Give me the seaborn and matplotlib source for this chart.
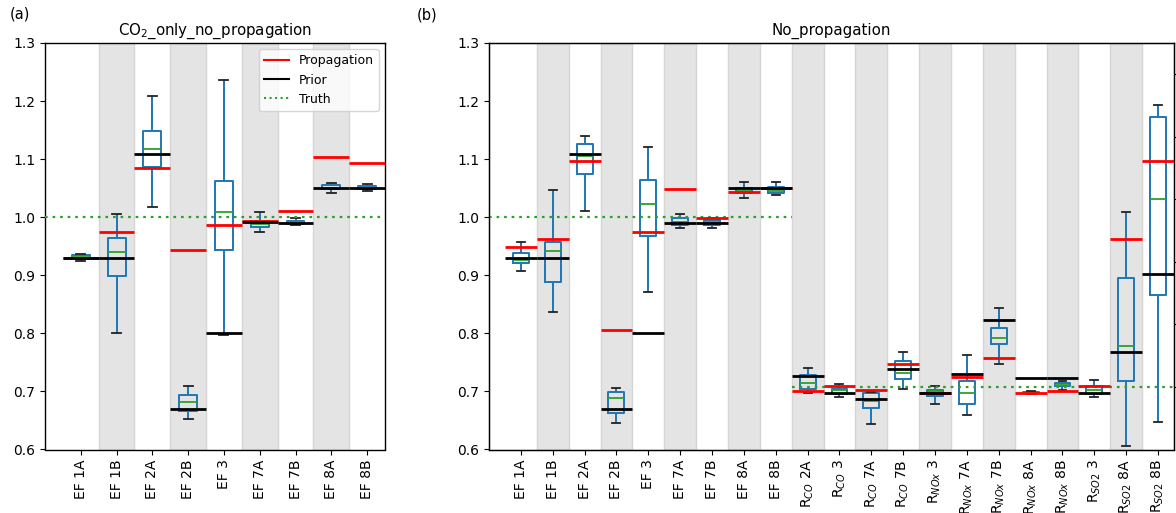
import numpy as np
import pandas as pd
import matplotlib
matplotlib.use("Agg")
import matplotlib.pyplot as plt
from matplotlib.lines import Line2D
import seaborn as sns

# ---------------- panel (a): CO2 only, no propagation ----------------
cats_a = ["EF 1A", "EF 1B", "EF 2A", "EF 2B", "EF 3", "EF 7A", "EF 7B", "EF 8A", "EF 8B"]
lo_a = [0.925, 0.800, 1.017, 0.653, 0.797, 0.975, 0.987, 1.041, 1.046]
q1_a = [0.929, 0.898, 1.087, 0.667, 0.944, 0.983, 0.989, 1.049, 1.048]
med_a = [0.932, 0.940, 1.117, 0.681, 1.009, 0.988, 0.991, 1.050, 1.051]
q3_a = [0.935, 0.964, 1.148, 0.694, 1.063, 0.994, 0.993, 1.056, 1.054]
hi_a = [0.937, 1.006, 1.209, 0.709, 1.236, 1.009, 0.999, 1.059, 1.058]
prior_a = [0.930, 0.930, 1.109, 0.670, 0.800, 0.991, 0.990, 1.050, 1.050]
prop_a = [0.930, 0.975, 1.085, 0.944, 0.986, 0.993, 1.011, 1.103, 1.094]
truth_a = [1.0] * 9

# ---------------- panel (b): no propagation ----------------
cats_b = ["EF 1A", "EF 1B", "EF 2A", "EF 2B", "EF 3", "EF 7A", "EF 7B", "EF 8A", "EF 8B",
          "R$_{CO}$ 2A", "R$_{CO}$ 3", "R$_{CO}$ 7A", "R$_{CO}$ 7B",
          "R$_{NOx}$ 3", "R$_{NOx}$ 7A", "R$_{NOx}$ 7B", "R$_{NOx}$ 8A", "R$_{NOx}$ 8B",
          "R$_{SO2}$ 3", "R$_{SO2}$ 8A", "R$_{SO2}$ 8B"]
lo_b = [0.908, 0.836, 1.010, 0.645, 0.871, 0.982, 0.982, 1.033, 1.039,
        0.697, 0.690, 0.644, 0.705, 0.679, 0.660, 0.747, 0.695, 0.702, 0.691, 0.606, 0.648]
q1_b = [0.921, 0.889, 1.075, 0.663, 0.968, 0.987, 0.987, 1.042, 1.042,
        0.705, 0.695, 0.671, 0.722, 0.692, 0.679, 0.781, 0.697, 0.709, 0.695, 0.718, 0.866]
med_b = [0.926, 0.941, 1.106, 0.688, 1.022, 0.992, 0.991, 1.046, 1.046,
         0.715, 0.702, 0.683, 0.732, 0.700, 0.698, 0.792, 0.698, 0.711, 0.703, 0.778, 1.032]
q3_b = [0.938, 0.958, 1.126, 0.699, 1.064, 0.999, 0.995, 1.051, 1.052,
        0.729, 0.705, 0.698, 0.753, 0.702, 0.718, 0.810, 0.699, 0.714, 0.709, 0.895, 1.172]
hi_b = [0.957, 1.047, 1.139, 0.706, 1.121, 1.005, 0.998, 1.060, 1.061,
        0.741, 0.713, 0.699, 0.768, 0.710, 0.763, 0.844, 0.700, 0.718, 0.719, 1.009, 1.194]
prior_b = [0.930, 0.930, 1.109, 0.670, 0.800, 0.990, 0.990, 1.050, 1.050,
           0.727, 0.697, 0.687, 0.739, 0.697, 0.730, 0.823, 0.723, 0.723, 0.697, 0.768, 0.902]
prop_b = [0.949, 0.963, 1.097, 0.805, 0.975, 1.049, 0.998, 1.044, 1.050,
          0.700, 0.710, 0.703, 0.747, 0.698, 0.725, 0.757, 0.698, 0.700, 0.710, 0.963, 1.097]
truth_b = [1.0] * 9 + [0.707] * 12

yticks = [0.6, 0.7, 0.8, 0.9, 1.0, 1.1, 1.2, 1.3]

BLUE, GREEN, RED = "#1f77b4", "#2ca02c", "#ff0000"
XLIM_LEFT = -1.0


def long_form(cats, lo, q1, med, q3, hi):
    """Five-number summaries as a long table (one row per summary value)."""
    rows = []
    for c, *vals in zip(cats, lo, q1, med, q3, hi):
        rows.extend((c, v) for v in vals)
    return pd.DataFrame(rows, columns=["param", "value"])


def draw_panel(ax, cats, lo, q1, med, q3, hi, prior, prop, truth, title):
    n = len(cats)
    x_right = n - 0.5
    for i in range(1, n, 2):
        ax.axvspan(i - 0.5, i + 0.5, facecolor="#e4e4e4", edgecolor="#d5d5d5",
                   lw=1.0, zorder=0)

    df = long_form(cats, lo, q1, med, q3, hi)
    sns.boxplot(data=df, x="param", y="value", order=cats, ax=ax,
                whis=(0, 100), width=0.5, fill=False, linecolor=BLUE,
                linewidth=1.4, showfliers=False,
                medianprops=dict(color=GREEN, linewidth=1.3),
                capprops=dict(color="#222222", linewidth=1.3),
                whiskerprops=dict(color=BLUE, linewidth=1.4),
                boxprops=dict(color=BLUE, linewidth=1.4))

    pos = np.arange(n)
    ax.hlines(prop, pos - 0.5, pos + 0.5, colors=RED, lw=2.0, zorder=4)
    ax.hlines(prior, pos - 0.5, pos + 0.5, colors="k", lw=2.0, zorder=5)

    # truth drawn as one dotted segment per run of equal values
    start = 0
    for i in range(1, n + 1):
        if i == n or truth[i] != truth[start]:
            x0 = XLIM_LEFT if start == 0 else start - 0.5
            x1 = x_right if i == n else i - 0.5
            ax.hlines(truth[start], x0, x1, colors=GREEN, linestyles=(0, (1.2, 2.2)),
                      lw=1.6, zorder=3)
            start = i

    ax.set_xlim(XLIM_LEFT, x_right)
    ax.set_ylim(0.6, 1.3)
    ax.set_yticks(yticks)
    ax.set_yticklabels([f"{t:.1f}" for t in yticks])
    ax.set_xlabel("")
    ax.set_ylabel("")
    ax.tick_params(axis="x", labelrotation=90)
    ax.tick_params(labelsize=10)
    ax.set_title(title, fontsize=10.8, pad=6)
    for s in ax.spines.values():
        s.set_visible(True)
        s.set_color("k")
        s.set_linewidth(1.0)


fig = plt.figure(figsize=(11.76, 5.13), dpi=100)
ax_a = fig.add_axes([45 / 1176, 1 - 449.5 / 513, 340 / 1176, 406.5 / 513])
ax_b = fig.add_axes([489 / 1176, 1 - 449.5 / 513, 685 / 1176, 406.5 / 513])

draw_panel(ax_a, cats_a, lo_a, q1_a, med_a, q3_a, hi_a, prior_a, prop_a, truth_a,
           "CO$_2$_only_no_propagation")
draw_panel(ax_b, cats_b, lo_b, q1_b, med_b, q3_b, hi_b, prior_b, prop_b, truth_b,
           "No_propagation")

# secondary scale on the right of panel (b); its labels fall beyond the canvas
ax_r = ax_b.twinx()
ax_r.set_ylim(0.9, 1.55)
ax_r.set_yticks([1.0, 1.1, 1.2, 1.3, 1.4, 1.5])
ax_r.set_yticklabels([])

handles = [Line2D([], [], color=RED, lw=1.5),
           Line2D([], [], color="k", lw=1.5),
           Line2D([], [], color=GREEN, lw=1.5, ls=":")]
ax_a.legend(handles, ["Propagation", "Prior", "Truth"], loc="upper right",
            fontsize=9, framealpha=0.8)

fig.text(10 / 1176, 1 - 14 / 513, "(a)", fontsize=10.5, va="center")
fig.text(417 / 1176, 1 - 15 / 513, "(b)", fontsize=10.5, va="center")

fig.savefig("out.png", dpi=100)
